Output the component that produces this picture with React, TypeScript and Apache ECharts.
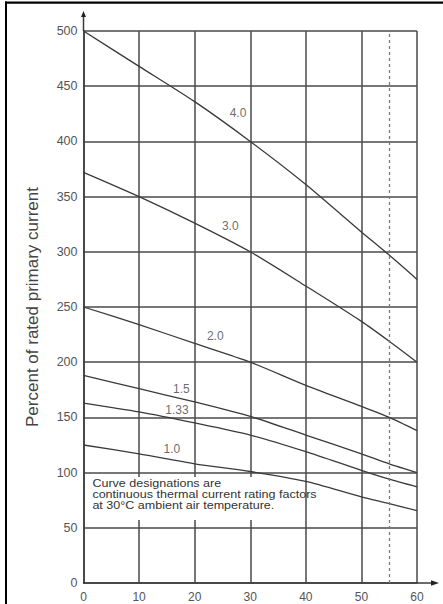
import React, { useEffect, useRef } from "react";
import * as echarts from "echarts";

// Ambient temperature (°C) at which each curve is read
const temperatures = [0, 10, 20, 30, 40, 50, 55, 60];
// Percent of rated primary current per curve designation
const curve40 = [500, 468, 436, 400, 361, 318, 297, 275];
const curve30 = [372, 350, 326, 300, 269, 237, 219, 200];
const curve20 = [250, 234, 217, 200, 179, 160, 150, 138];
const curve15 = [188, 176, 164, 151, 134, 117, 108, 100];
const curve133 = [163, 155, 145, 134, 119, 102, 94, 87];
const curve10 = [125, 117, 108, 101, 92, 78, 72, 65.5];
const curveNames = ["4.0", "3.0", "2.0", "1.5", "1.33", "1.0"];
// Curve label positions (data coordinates)
const labelX = [27.8, 26.4, 23.7, 17.6, 16.8, 15.9];
const labelY = [426, 323, 224, 176, 157, 121];
const dashedTemp = 55;
const noteLines = [
  "Curve designations are",
  "continuous thermal current rating factors",
  "at 30°C ambient air temperature.",
];
const yAxisTitle = "Percent of rated primary current";

const FONT = "'Liberation Sans', Arial, Helvetica, sans-serif";

export default function App() {
  const ref = useRef<HTMLDivElement>(null);
  useEffect(() => {
    if (!ref.current) return;
    const chart = echarts.init(ref.current, undefined, { renderer: "svg" });
    const curves = [curve40, curve30, curve20, curve15, curve133, curve10];
    const lineSeries = curves.map((vals, i) => ({
      type: "line",
      name: curveNames[i],
      data: temperatures.map((t, j) => [t, vals[j]]),
      symbol: "none",
      smooth: 0.25,
      z: 3,
      lineStyle: { color: "#3a3a3a", width: 1.3 },
      ...(i === 0
        ? {
            markLine: {
              silent: true,
              symbol: ["none", "none"],
              label: { show: false },
              lineStyle: { color: "#7a7a7a", width: 1.3, type: [3, 3] },
              data: [{ xAxis: dashedTemp }],
            },
          }
        : {}),
    }));
    const option: any = {
      animation: false,
      backgroundColor: "#ffffff",
      grid: { left: 83.5, top: 31, right: 26, bottom: 21, containLabel: false },
      xAxis: {
        type: "value",
        min: 0,
        max: 60,
        interval: 10,
        axisLine: { show: true, onZero: false, lineStyle: { color: "#3a3a3a", width: 1.5 } },
        axisTick: { show: false },
        axisLabel: { color: "#555", fontSize: 12, fontFamily: FONT, margin: 8 },
        splitLine: { show: true, lineStyle: { color: "#4a4a4a", width: 1.5 } },
      },
      yAxis: {
        type: "value",
        min: 0,
        max: 500,
        interval: 50,
        name: yAxisTitle,
        nameLocation: "middle",
        nameGap: 43,
        nameTextStyle: { color: "#444", fontSize: 17, fontFamily: FONT },
        axisLine: { show: true, onZero: false, lineStyle: { color: "#3a3a3a", width: 1.5 } },
        axisTick: { show: false },
        axisLabel: { color: "#555", fontSize: 12.5, fontFamily: FONT, margin: 6 },
        splitLine: { show: true, lineStyle: { color: "#4a4a4a", width: 1.5 } },
      },
      series: [
        ...lineSeries,
        {
          type: "scatter",
          symbolSize: 0,
          z: 4,
          data: labelX.map((x, i) => [x, labelY[i], curveNames[i]]),
          label: {
            show: true,
            position: "inside",
            formatter: (p: any) => p.data[2],
            color: "#444",
            fontSize: 12,
            fontFamily: FONT,
          },
        },
      ],
    };
    chart.setOption(option);

    const px = (x: number, y: number) =>
      chart.convertToPixel({ gridIndex: 0 }, [x, y]) as number[];
    const top = px(0, 500);
    const right = px(60, 0);
    const boxA = px(0.5, 96);
    const boxB = px(39, 57);
    const noteAt = px(1.6, 95.5);

    chart.setOption({
      graphic: [
        // page frame
        { type: "rect", z: 10, shape: { x: 5, y: 1.5, width: 2, height: 604 }, style: { fill: "#000" } },
        { type: "rect", z: 10, shape: { x: 5, y: 1.5, width: 440, height: 2.2 }, style: { fill: "#000" } },
        // axis extensions and arrows
        {
          type: "line",
          z: 5,
          shape: { x1: top[0], y1: top[1], x2: top[0], y2: top[1] - 15 },
          style: { stroke: "#3a3a3a", lineWidth: 1.5 },
        },
        {
          type: "polygon",
          z: 5,
          shape: { points: [[top[0], top[1] - 20], [top[0] - 2.5, top[1] - 14], [top[0] + 2.5, top[1] - 14]] },
          style: { fill: "#222" },
        },
        {
          type: "line",
          z: 5,
          shape: { x1: right[0], y1: right[1], x2: right[0] + 16, y2: right[1] },
          style: { stroke: "#3a3a3a", lineWidth: 1.5 },
        },
        {
          type: "polygon",
          z: 5,
          shape: { points: [[right[0] + 22, right[1]], [right[0] + 14, right[1] - 2.8], [right[0] + 14, right[1] + 2.8]] },
          style: { fill: "#222" },
        },
        // note box hiding the grid behind the text
        {
          type: "rect",
          z: 1,
          shape: { x: boxA[0], y: boxA[1], width: boxB[0] - boxA[0], height: boxB[1] - boxA[1] },
          style: { fill: "#ffffff" },
        },
        ...noteLines.map((line, i) => ({
          type: "text",
          z: 6,
          x: noteAt[0],
          y: noteAt[1] + i * 11.2,
          scaleX: 1.12,
          style: {
            text: line,
            fill: "#333",
            font: `11.2px ${FONT}`,
            textVerticalAlign: "top",
          },
        })),
      ],
    });

    return () => chart.dispose();
  }, []);
  return (
    <div
      ref={ref}
      style={{ position: "absolute", left: 0, top: 0, width: 443, height: 604 }}
    />
  );
}
